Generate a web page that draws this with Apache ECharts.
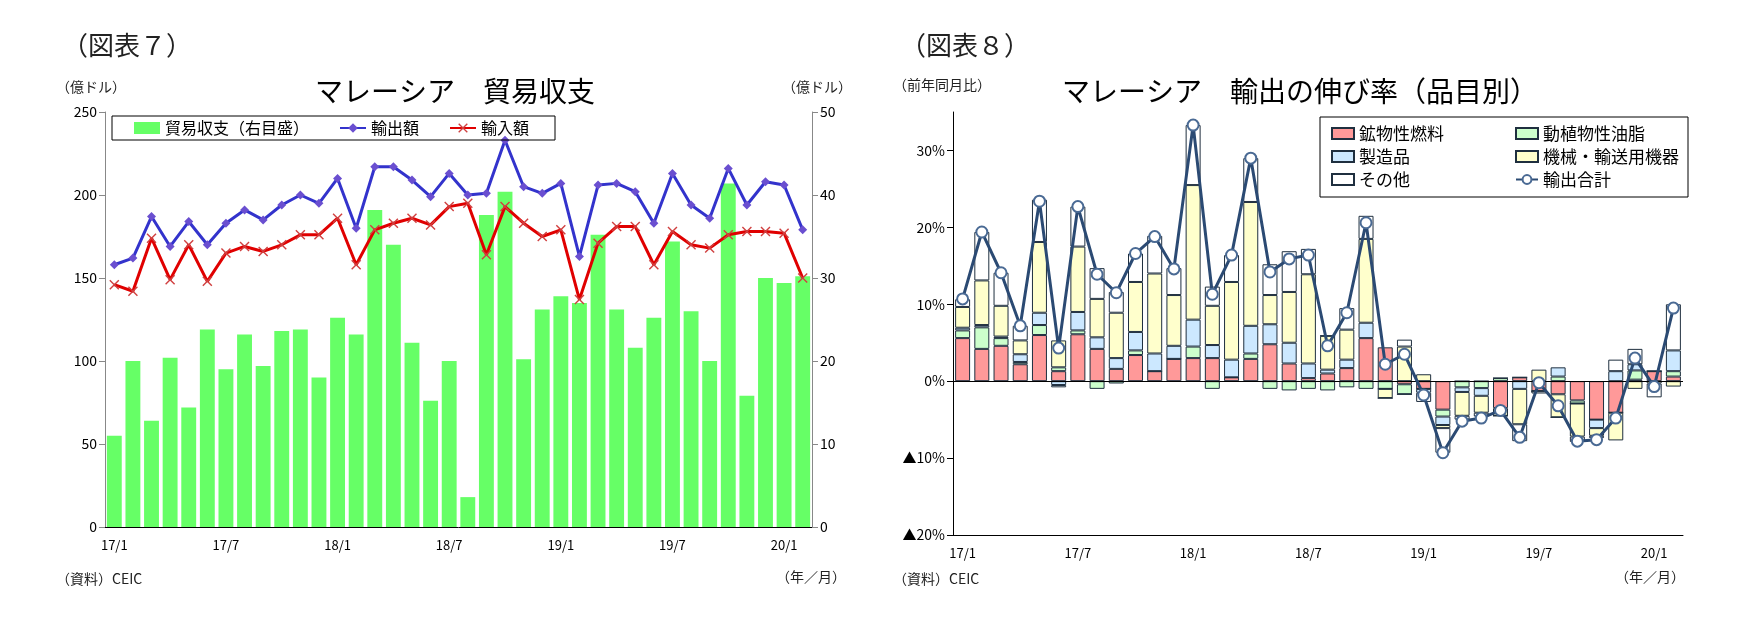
<!DOCTYPE html>
<html>
<head>
<meta charset="utf-8">
<script src="https://cdn.jsdelivr.net/npm/echarts@6/dist/echarts.min.js"></script>
<style>
html, body {margin: 0; padding: 0; background: #fff;}
#main {width: 1748px; height: 640px;}
</style>
</head>
<body>
<div id="main"></div>
<script>
// 月ラベル (17/1 ~ 20/2)
let months = [];
for (let y = 17; y <= 20; y++) {
    for (let m = 1; m <= 12; m++) {
        if (y === 20 && m > 2) break;
        months.push(y + '/' + m);
    }
}

// 図表7 貿易収支(億ドル)
let balance = [11, 20, 12.8, 20.4, 14.4, 23.8, 19, 23.2, 19.4, 23.6, 23.8, 18, 25.2, 23.2, 38.2, 34, 22.2, 15.2, 20, 3.6,
    37.6, 40.4, 20.2, 26.2, 27.8, 27, 35.2, 26.2, 21.6, 25.2, 34.4, 26, 20, 41.4, 15.8, 30, 29.4, 30.2];
let exports = [158, 162, 187, 169, 184, 170, 183, 191, 185, 194, 200, 195, 210, 180, 217, 217, 209, 199, 213, 200,
    201, 233, 205, 201, 207, 163, 206, 207, 202, 183, 213, 194, 186, 216, 194, 208, 206, 179];
let imports = [146, 142, 174, 149, 170, 148, 165, 169, 166, 170, 176, 176, 186, 158, 179, 183, 186, 182, 193, 195,
    164, 193, 183, 175, 179, 137, 171, 181, 181, 158, 178, 170, 168, 176, 178, 178, 177, 150];

// 図表8 輸出の伸び率(品目別, %寄与度)
let fuel = [5.6, 4.2, 4.6, 2.2, 6.0, 1.3, 6.1, 4.2, 1.6, 3.4, 1.3, 2.9, 3.0, 3.0, 0.5, 2.9, 4.8, 2.3, 0.4, 1.0,
    1.7, 5.6, 4.4, -0.4, -1.0, -3.7, 0, 0, -3.5, 0.5, -1.3, -1.7, -2.5, -5.0, -4.1, 0.2, 1.3, 0.6];
let oils = [1.0, 2.8, 1.0, 0.3, 1.3, 0.5, 0.5, -1.0, -0.3, 0.6, 0, 0, 1.5, -1.0, 0, 0.7, -1.0, -1.2, -1.0, -1.2,
    -0.8, -1.0, -1.0, -1.3, 0, -0.9, -0.8, -0.9, 0.4, 0, 0, 0.6, -0.4, 0, 0, 1.2, 0, 0.7];
let manuf = [0.35, 0.3, 0.2, 1.0, 1.6, -0.5, 2.4, 1.5, 1.4, 2.4, 2.3, 1.7, 3.5, 1.7, 2.3, 3.6, 2.6, 2.7, 1.9, 0.5,
    1.1, 2.0, 0, 0, -0.5, -1.1, -0.6, -1.0, 0, -1.0, 0, 1.2, 0, -1.1, 1.3, 0.8, 0, 2.7];
let machinery = [2.7, 5.8, 4.0, 1.8, 9.2, 3.5, 8.5, 5.0, 5.9, 6.5, 10.4, 6.6, 17.5, 5.1, 10.1, 16.1, 3.8, 6.6, 11.6, 4.4,
    3.9, 10.9, -1.2, 4.5, 0.9, -0.4, -3.1, -2.2, -1.0, -4.6, 1.5, -3.0, -4.3, -1.0, -3.6, -1.0, -0.3, -0.7];
let others = [1.0, 6.3, 4.3, 1.9, 5.5, -0.3, 5.2, 4.0, 2.7, 3.7, 4.9, 3.5, 7.8, 2.5, 3.5, 5.7, 4.0, 5.3, 3.3, 0,
    2.8, 3.0, 0, 0.9, -1.2, -3.2, -0.5, -0.5, 0, -2.2, -0.3, 0, -0.7, -0.3, 1.5, 2.0, -1.8, 6.0];
let totalGrowth = [10.7, 19.4, 14.1, 7.2, 23.4, 4.3, 22.7, 13.9, 11.5, 16.6, 18.8, 14.6, 33.3, 11.3, 16.4, 29.0, 14.2, 15.9, 16.4, 4.6,
    8.9, 20.6, 2.2, 3.5, -1.8, -9.3, -5.2, -4.8, -3.8, -7.3, -0.2, -3.2, -7.8, -7.6, -4.8, 3.0, -0.7, 9.5];

let font = '"Noto Sans CJK JP", sans-serif';
let xMark = 'path://M0,1L1,0L5,4L9,0L10,1L6,5L10,9L9,10L5,6L1,10L0,9L4,5Z';

function monthLabel(v, i) {
    return i % 6 === 0 ? v : '';
}

let myChart = echarts.init(document.getElementById('main'));

function stackBar(name, data, color) {
    return {
        name: name,
        type: 'bar',
        xAxisIndex: 1,
        yAxisIndex: 2,
        stack: 'g',
        barWidth: '78%',
        data: data,
        itemStyle: {color: color, borderColor: '#1f2f3f', borderWidth: 1}
    };
}

let option = {
    textStyle: {fontFamily: font},
    animation: false,
    graphic: [
        {type: 'text', left: 62, top: 32, style: {text: '（図表７）', font: '26px ' + font, fill: '#222'}},
        {type: 'text', left: 900, top: 32, style: {text: '（図表８）', font: '26px ' + font, fill: '#222'}},
        {type: 'text', left: 56, top: 80, style: {text: '（億ドル）', font: '14px ' + font, fill: '#222'}},
        {type: 'text', left: 782, top: 80, style: {text: '（億ドル）', font: '14px ' + font, fill: '#222'}},
        {type: 'text', left: 893, top: 78, style: {text: '（前年同月比）', font: '14px ' + font, fill: '#222'}},
        {type: 'text', left: 56, top: 572, style: {text: '（資料）CEIC', font: '14px ' + font, fill: '#222'}},
        {type: 'text', left: 893, top: 572, style: {text: '（資料）CEIC', font: '14px ' + font, fill: '#222'}},
        {type: 'text', left: 776, top: 570, style: {text: '（年／月）', font: '14px ' + font, fill: '#222'}},
        {type: 'text', left: 1615, top: 570, style: {text: '（年／月）', font: '14px ' + font, fill: '#222'}},
        {type: 'rect', shape: {x: 1320, y: 117, width: 368, height: 80},
            style: {fill: 'none', stroke: '#000', lineWidth: 1}}
    ],
    title: [
        {text: 'マレーシア　貿易収支', left: 450, top: 72, textAlign: 'center',
            textStyle: {fontSize: 28, fontWeight: 'normal', color: '#000', fontFamily: font}},
        {text: 'マレーシア　輸出の伸び率（品目別）', left: 1295, top: 72, textAlign: 'center',
            textStyle: {fontSize: 28, fontWeight: 'normal', color: '#000', fontFamily: font}}
    ],
    legend: [
        {
            left: 112, top: 116, itemGap: 30, itemWidth: 26, itemHeight: 12,
            padding: [4, 26, 4, 22],
            borderColor: '#000', borderWidth: 1,
            textStyle: {fontSize: 16, color: '#000'},
            data: [
                {name: '貿易収支（右目盛）', icon: 'rect'},
                '輸出額', '輸入額'
            ]
        },
        {
            orient: 'vertical', left: 1326, top: 120, itemGap: 6, itemWidth: 22, itemHeight: 11,
            textStyle: {fontSize: 17, color: '#000'},
            data: [{name: '鉱物性燃料', icon: 'rect'}, {name: '製造品', icon: 'rect'}, {name: 'その他', icon: 'rect'}]
        },
        {
            orient: 'vertical', left: 1510, top: 120, itemGap: 6, itemWidth: 22, itemHeight: 11,
            textStyle: {fontSize: 17, color: '#000'},
            data: [{name: '動植物性油脂', icon: 'rect'}, {name: '機械・輸送用機器', icon: 'rect'}, '輸出合計']
        }
    ],
    grid: [
        {left: 105, right: 936, top: 112, height: 415},
        {left: 953, right: 65, top: 112, height: 423}
    ],
    xAxis: [
        {
            type: 'category', gridIndex: 0, data: months,
            axisLine: {lineStyle: {color: '#000'}},
            axisTick: {show: false},
            axisLabel: {interval: 0, formatter: monthLabel, color: '#000', fontSize: 13, margin: 12}
        },
        {
            type: 'category', gridIndex: 1, data: months,
            axisLine: {onZero: false, lineStyle: {color: '#000'}},
            axisTick: {show: false},
            axisLabel: {interval: 0, formatter: monthLabel, color: '#000', fontSize: 13, margin: 12}
        }
    ],
    yAxis: [
        {
            type: 'value', gridIndex: 0, min: 0, max: 250, interval: 50,
            axisLine: {show: true, lineStyle: {color: '#888'}},
            axisTick: {show: true, length: 6},
            splitLine: {show: false},
            axisLabel: {color: '#000', fontSize: 14}
        },
        {
            type: 'value', gridIndex: 0, min: 0, max: 50, interval: 10, position: 'right',
            axisLine: {show: true, lineStyle: {color: '#888'}},
            axisTick: {show: true, length: 6},
            splitLine: {show: false},
            axisLabel: {color: '#000', fontSize: 14}
        },
        {
            type: 'value', gridIndex: 1, min: -20, max: 35, interval: 10,
            axisLine: {show: true, lineStyle: {color: '#000'}},
            axisTick: {show: true, length: 6},
            splitLine: {show: false},
            axisLabel: {
                color: '#000', fontSize: 14, showMaxLabel: false,
                formatter: function (v) {
                    return v < 0 ? '▲' + (-v) + '%' : v + '%';
                }
            }
        }
    ],
    series: [
        {
            name: '貿易収支（右目盛）', type: 'bar', xAxisIndex: 0, yAxisIndex: 1,
            barWidth: '80%', data: balance,
            itemStyle: {color: '#66ff66'}
        },
        {
            name: '輸出額', type: 'line', xAxisIndex: 0, yAxisIndex: 0, data: exports,
            symbol: 'diamond', symbolSize: 9,
            lineStyle: {color: '#3333cc', width: 3},
            itemStyle: {color: '#6a4fd0'}
        },
        {
            name: '輸入額', type: 'line', xAxisIndex: 0, yAxisIndex: 0, data: imports,
            symbol: xMark, symbolSize: 10,
            lineStyle: {color: '#e00000', width: 3},
            itemStyle: {color: '#d04040'}
        },
        Object.assign(stackBar('鉱物性燃料', fuel, '#ff9999'), {
            markLine: {
                silent: true, symbol: 'none', label: {show: false},
                lineStyle: {color: '#000', type: 'solid', width: 1},
                data: [{yAxis: 0}]
            }
        }),
        stackBar('動植物性油脂', oils, '#ccffcc'),
        stackBar('製造品', manuf, '#cce8ff'),
        stackBar('機械・輸送用機器', machinery, '#ffffcc'),
        stackBar('その他', others, '#ffffff'),
        {
            name: '輸出合計', type: 'line', xAxisIndex: 1, yAxisIndex: 2, data: totalGrowth,
            symbol: 'circle', symbolSize: 11, z: 5,
            lineStyle: {color: '#2b4a73', width: 3},
            itemStyle: {color: '#fff', borderColor: '#4a6a94', borderWidth: 2}
        }
    ]
};
myChart.setOption(option);
</script>
</body>
</html>
